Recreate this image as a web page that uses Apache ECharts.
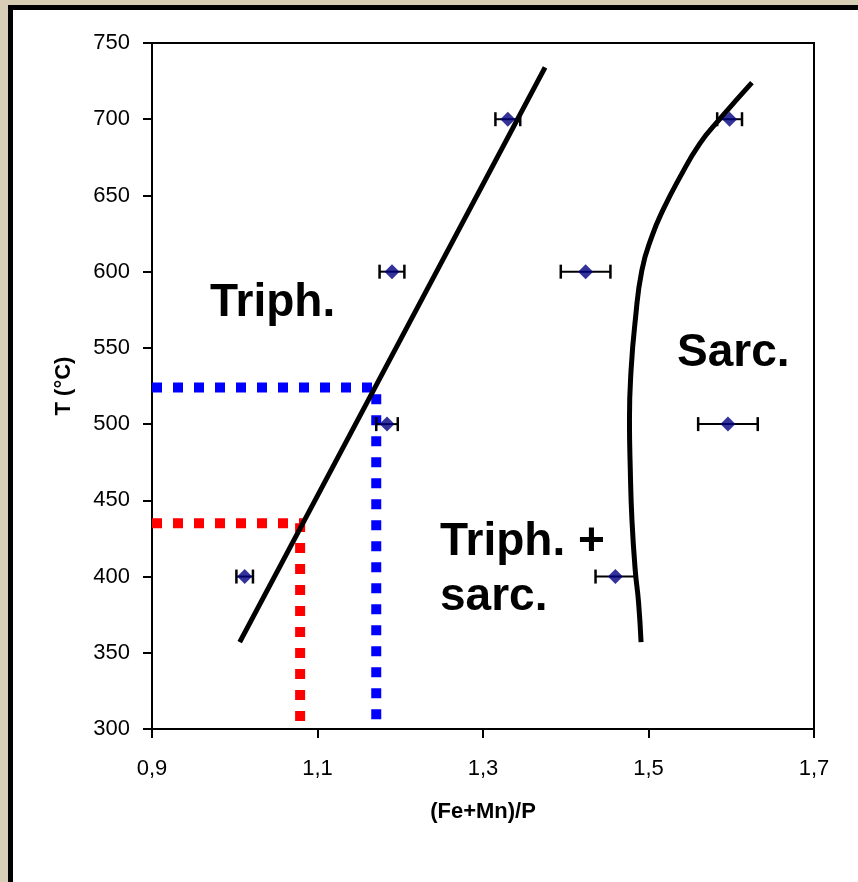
<!DOCTYPE html>
<html>
<head>
<meta charset="utf-8">
<script src="https://cdn.jsdelivr.net/npm/echarts@6/dist/echarts.min.js"></script>
<style>
  html, body { margin: 0; padding: 0; }
  body { width: 858px; height: 882px; position: relative; overflow: hidden;
    background: #d8ceb6; }
  .frame { position: absolute; left: 8px; top: 5px; right: 0; bottom: 0; background: #000; }
  .panel { position: absolute; left: 13px; top: 10px; right: 0; bottom: 0; background: #fff; }
  #chart { position: absolute; left: 0; top: 0; width: 858px; height: 882px; }
</style>
</head>
<body>
<div class="frame"></div>
<div class="panel"></div>
<div id="chart"></div>
<script>
// measured points with x error
const pointX = [1.012, 1.460, 1.184, 1.596, 1.190, 1.424, 1.330, 1.598]
const pointT = [400, 400, 500, 500, 600, 600, 700, 700]
const pointErr = [0.010, 0.024, 0.013, 0.036, 0.015, 0.030, 0.015, 0.015]

// triphylite boundary (straight)
const triphLineX = [1.006, 1.375]
const triphLineT = [357, 734]

// sarcopside boundary (curved)
const sarcCurveX = [1.491, 1.488, 1.484, 1.480, 1.478, 1.477, 1.479, 1.484, 1.492, 1.504, 1.518, 1.538, 1.562, 1.586, 1.625]
const sarcCurveT = [357, 383, 404, 437, 470, 503, 536, 568, 601, 623, 641, 662, 684, 700, 724]

// dotted guides
const blueGuideX = [0.9, 1.171, 1.171]
const blueGuideT = [524, 524, 300]
const redGuideX = [0.9, 1.079, 1.079]
const redGuideT = [435, 435, 300]

const font = 'Liberation Sans, Arial, sans-serif'
const zip = (xs, ys) => xs.map((x, i) => [x, ys[i]])

const chart = echarts.init(document.getElementById('chart'))

const option = {
  animation: false,
  grid: {
    left: 152, right: 44, top: 43, bottom: 153,
    show: true, borderColor: '#000', borderWidth: 2
  },
  xAxis: {
    type: 'value', min: 0.9, max: 1.7, interval: 0.2,
    name: '(Fe+Mn)/P', nameLocation: 'middle', nameGap: 72,
    nameTextStyle: { fontFamily: font, fontSize: 22, fontWeight: 'bold', color: '#000' },
    axisLine: { lineStyle: { color: '#000', width: 2 } },
    axisTick: { length: 9, lineStyle: { color: '#000', width: 2 } },
    axisLabel: {
      fontFamily: font, fontSize: 22, color: '#000', margin: 29,
      formatter: v => v.toFixed(1).replace('.', ',')
    },
    splitLine: { show: false }
  },
  yAxis: {
    type: 'value', min: 300, max: 750, interval: 50,
    name: 'T (°C)', nameLocation: 'middle', nameGap: 77,
    nameTextStyle: { fontFamily: font, fontSize: 22, fontWeight: 'bold', color: '#000' },
    axisLine: { lineStyle: { color: '#000', width: 2 } },
    axisTick: { length: 9, lineStyle: { color: '#000', width: 2 } },
    axisLabel: { fontFamily: font, fontSize: 22, color: '#000', margin: 22 },
    splitLine: { show: false }
  },
  graphic: [
    { type: 'text', left: 210, top: 280, style: { text: 'Triph.', font: 'bold 46px ' + font, fill: '#000' } },
    { type: 'text', left: 677, top: 330, style: { text: 'Sarc.', font: 'bold 46px ' + font, fill: '#000' } },
    { type: 'text', left: 440, top: 519, style: { text: 'Triph. +', font: 'bold 46px ' + font, fill: '#000' } },
    { type: 'text', left: 440, top: 574, style: { text: 'sarc.', font: 'bold 46px ' + font, fill: '#000' } }
  ],
  series: [
    {
      type: 'line', data: zip(blueGuideX, blueGuideT), symbol: 'none', z: 1,
      lineStyle: { color: '#0000ff', width: 10, type: [10, 11], join: 'miter' }
    },
    {
      type: 'line', data: zip(redGuideX, redGuideT), symbol: 'none', z: 1,
      lineStyle: { color: '#ff0000', width: 10, type: [10, 11], join: 'miter' }
    },
    {
      type: 'custom', z: 2,
      data: pointX.map((x, i) => [x, pointT[i], pointErr[i]]),
      renderItem (params, api) {
        const t = api.value(1)
        const lo = api.coord([api.value(0) - api.value(2), t])
        const hi = api.coord([api.value(0) + api.value(2), t])
        const h = 7
        const cap = { stroke: '#000', lineWidth: 2.5 }
        return {
          type: 'group',
          children: [
            { type: 'line', shape: { x1: lo[0], y1: lo[1], x2: hi[0], y2: hi[1] }, style: { stroke: '#000', lineWidth: 2 } },
            { type: 'line', shape: { x1: lo[0], y1: lo[1] - h, x2: lo[0], y2: lo[1] + h }, style: cap },
            { type: 'line', shape: { x1: hi[0], y1: hi[1] - h, x2: hi[0], y2: hi[1] + h }, style: cap }
          ]
        }
      }
    },
    {
      type: 'line', data: zip(triphLineX, triphLineT), symbol: 'none', z: 3,
      lineStyle: { color: '#000', width: 5 }
    },
    {
      type: 'line', data: zip(sarcCurveX, sarcCurveT), symbol: 'none', smooth: 0.5, z: 3,
      lineStyle: { color: '#000', width: 5 }
    },
    {
      type: 'scatter', data: zip(pointX, pointT), symbol: 'diamond', symbolSize: 15, z: 4,
      itemStyle: { color: '#000080' }
    }
  ]
}

chart.setOption(option)
</script>
</body>
</html>
